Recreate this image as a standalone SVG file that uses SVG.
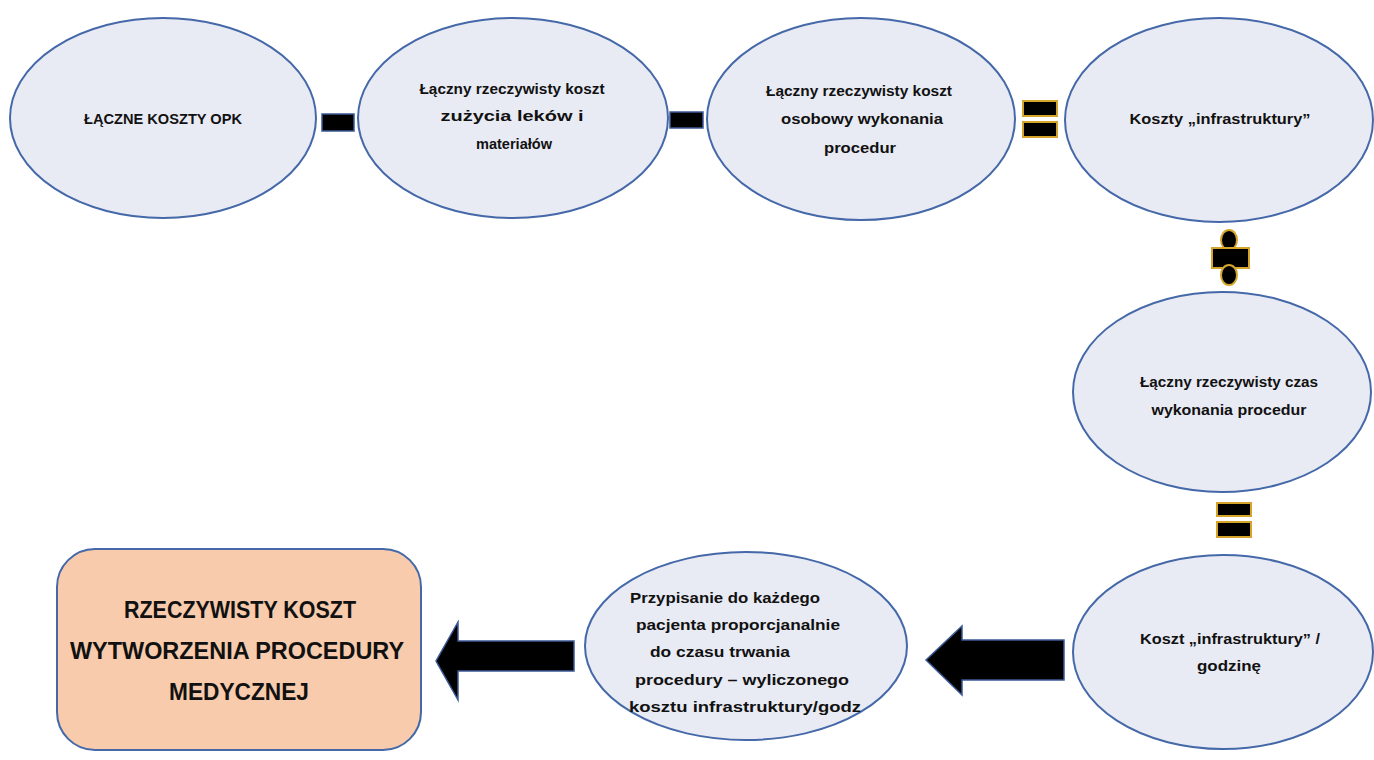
<svg xmlns="http://www.w3.org/2000/svg" width="1374" height="760" viewBox="0 0 1374 760">
<style>
.node{fill:#e9ebf4;stroke:#4468a8;stroke-width:2}
.box{fill:#f7cbab;stroke:#4468a8;stroke-width:2}
.t{font-family:"Liberation Sans",Arial,sans-serif;font-weight:bold;font-size:14px;fill:#111;text-anchor:middle}
.tb{font-family:"Liberation Sans",Arial,sans-serif;font-weight:bold;font-size:23px;fill:#111;text-anchor:middle}
.op{fill:#000;stroke:#3b5a96;stroke-width:1.5}
.opg{fill:#000;stroke:#d4a52a;stroke-width:2}
.arr{fill:#000;stroke:#3b5a96;stroke-width:1.5}
</style>
<rect width="1374" height="760" fill="#fff"/>
<g id="n1"><ellipse class="node" cx="163" cy="118" rx="153" ry="100"/>
<text class="t" x="163" y="124" textLength="158" lengthAdjust="spacingAndGlyphs">ŁĄCZNE KOSZTY OPK</text></g>
<g id="n2"><ellipse class="node" cx="513" cy="118" rx="155" ry="100"/>
<text class="t" x="512" y="94" textLength="185" lengthAdjust="spacingAndGlyphs">Łączny rzeczywisty koszt</text>
<text class="t" x="512" y="121" textLength="143" lengthAdjust="spacingAndGlyphs">zużycia leków i</text>
<text class="t" x="514" y="149" textLength="76" lengthAdjust="spacingAndGlyphs">materiałów</text></g>
<g id="n3"><ellipse class="node" cx="861" cy="119" rx="154" ry="101"/>
<text class="t" x="859" y="96" textLength="186" lengthAdjust="spacingAndGlyphs">Łączny rzeczywisty koszt</text>
<text class="t" x="862" y="124" textLength="162" lengthAdjust="spacingAndGlyphs">osobowy wykonania</text>
<text class="t" x="860" y="153" textLength="72" lengthAdjust="spacingAndGlyphs">procedur</text></g>
<g id="n4"><ellipse class="node" cx="1219" cy="120" rx="154" ry="102"/>
<text class="t" x="1220" y="124" textLength="181" lengthAdjust="spacingAndGlyphs">Koszty „infrastruktury”</text></g>
<g id="n5"><ellipse class="node" cx="1222" cy="392" rx="149" ry="100"/>
<text class="t" x="1229" y="387" textLength="178" lengthAdjust="spacingAndGlyphs">Łączny rzeczywisty czas</text>
<text class="t" x="1229" y="415" textLength="155" lengthAdjust="spacingAndGlyphs">wykonania procedur</text></g>
<g id="n6"><ellipse class="node" cx="1223" cy="652" rx="150" ry="97"/>
<text class="t" x="1230" y="644" textLength="180" lengthAdjust="spacingAndGlyphs">Koszt „infrastruktury” /</text>
<text class="t" x="1229" y="671" textLength="64" lengthAdjust="spacingAndGlyphs">godzinę</text></g>
<g id="n7"><ellipse class="node" cx="746" cy="646" rx="161" ry="94"/>
<text class="t" x="725" y="603" textLength="190" lengthAdjust="spacingAndGlyphs">Przypisanie do każdego</text>
<text class="t" x="738" y="630" textLength="204" lengthAdjust="spacingAndGlyphs">pacjenta proporcjanalnie</text>
<text class="t" x="720" y="657" textLength="140" lengthAdjust="spacingAndGlyphs">do czasu trwania</text>
<text class="t" x="742" y="685" textLength="214" lengthAdjust="spacingAndGlyphs">procedury – wyliczonego</text>
<text class="t" x="745" y="712" textLength="232" lengthAdjust="spacingAndGlyphs">kosztu infrastruktury/godz</text></g>
<g id="result"><rect class="box" x="57" y="549" width="364" height="201" rx="38"/>
<text class="tb" x="240" y="618" textLength="232" lengthAdjust="spacingAndGlyphs">RZECZYWISTY KOSZT</text>
<text class="tb" x="237" y="659" textLength="334" lengthAdjust="spacingAndGlyphs">WYTWORZENIA PROCEDURY</text>
<text class="tb" x="239" y="700" textLength="140" lengthAdjust="spacingAndGlyphs">MEDYCZNEJ</text></g>
<g id="connectors">
<rect class="op" x="322" y="114" width="32" height="17"/>
<rect class="op" x="670" y="112" width="33" height="16"/>
<rect class="opg" x="1023" y="101" width="34" height="15"/>
<rect class="opg" x="1023" y="122" width="34" height="15"/>
<ellipse class="opg" cx="1229" cy="240" rx="8" ry="10"/>
<rect class="opg" x="1212" y="248" width="37" height="20"/>
<ellipse class="opg" cx="1229" cy="275" rx="8" ry="10"/>
<rect class="opg" x="1217" y="503" width="34" height="13"/>
<rect class="opg" x="1217" y="522" width="34" height="15"/>
<polygon class="arr" points="1064,640 962,640 962,626 926,660 962,695 962,680 1064,680"/>
<polygon class="arr" points="574,641 458,641 458,622 436,661 458,700 458,671 574,671"/>
</g>
</svg>
